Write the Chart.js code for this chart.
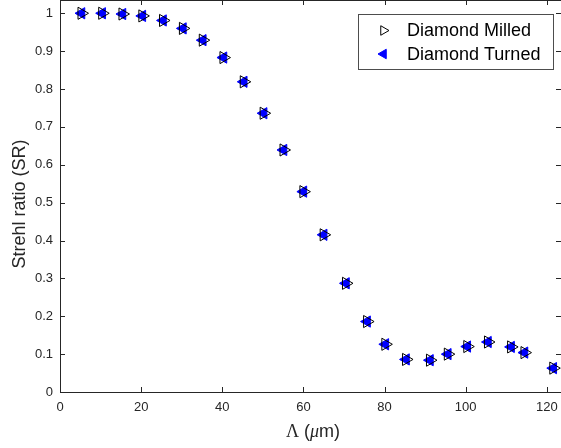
<!DOCTYPE html>
<html>
<head>
<meta charset="utf-8">
<script src="https://cdn.jsdelivr.net/npm/chart.js@4/dist/chart.umd.min.js"></script>
<style>
  html, body { margin: 0; padding: 0; background: #fff; }
  #wrap { width: 561px; height: 448px; position: relative; }
</style>
</head>
<body>
<div id="wrap"><canvas id="srChart"></canvas></div>
<script>
// ==========================
// Data
// ==========================
const lambdaUm = [5.3, 10.4, 15.4, 20.3, 25.4, 30.3, 35.2, 40.3, 45.3, 50.2, 55.1, 60.0,
                  65.0, 70.5, 75.7, 80.2, 85.3, 91.2, 95.6, 100.4, 105.5, 111.2, 114.5, 121.6];
const milledSR = [1.0, 1.0, 0.998, 0.993, 0.981, 0.960, 0.929, 0.883, 0.819, 0.736, 0.639, 0.529,
                  0.415, 0.287, 0.186, 0.126, 0.086, 0.084, 0.100, 0.120, 0.132, 0.119, 0.104, 0.063];
const turnedSR = [1.0, 1.0, 0.998, 0.993, 0.981, 0.960, 0.929, 0.883, 0.819, 0.736, 0.639, 0.529,
                  0.415, 0.287, 0.186, 0.126, 0.086, 0.084, 0.100, 0.120, 0.132, 0.119, 0.104, 0.063];
const seriesNames = ["Diamond Milled", "Diamond Turned"];
const xTicks = [0, 20, 40, 60, 80, 100, 120];
const yTicks = [0, 0.1, 0.2, 0.3, 0.4, 0.5, 0.6, 0.7, 0.8, 0.9, 1];

const AXIS_COLOR = "#262626";
const SANS = "'Liberation Sans', Arial, sans-serif";
const SERIF = "'Liberation Serif', 'Times New Roman', serif";

function toPoints(xs, ys) {
    return xs.map((x, i) => ({ x: x, y: ys[i] }));
}

// ==========================
// Axes box + inward ticks (MATLAB style)
// ==========================
const boxAxes = {
    id: "boxAxes",
    afterDraw(chart) {
        const { ctx, chartArea: a, scales } = chart;
        ctx.save();
        ctx.strokeStyle = AXIS_COLOR;
        ctx.lineWidth = 1;
        ctx.beginPath();
        ctx.moveTo(a.left + 0.5, a.top + 0.5);
        ctx.lineTo(a.left + 0.5, a.bottom + 0.5);
        ctx.lineTo(a.right + 0.5, a.bottom + 0.5);
        ctx.moveTo(a.left + 0.5, a.top + 0.5);
        ctx.lineTo(a.right + 0.5, a.top + 0.5);
        ctx.lineTo(a.right + 0.5, a.bottom + 0.5);
        const len = 5;
        xTicks.forEach(v => {
            const px = Math.round(scales.x.getPixelForValue(v)) + 0.5;
            ctx.moveTo(px, a.bottom);
            ctx.lineTo(px, a.bottom - len);
            ctx.moveTo(px, a.top);
            ctx.lineTo(px, a.top + len);
        });
        yTicks.forEach(v => {
            const py = Math.round(scales.y.getPixelForValue(v)) + 0.5;
            ctx.moveTo(a.left, py);
            ctx.lineTo(a.left + len, py);
            ctx.moveTo(a.right, py);
            ctx.lineTo(a.right - len, py);
        });
        ctx.stroke();

        // y title
        ctx.fillStyle = AXIS_COLOR;
        ctx.font = "18px " + SANS;
        ctx.textAlign = "center";
        ctx.textBaseline = "middle";
        ctx.translate(20, 204);
        ctx.rotate(-Math.PI / 2);
        ctx.fillText("Strehl ratio (SR)", 0, 0);
        ctx.restore();

        // x title: Λ (μm) with symbol glyphs in serif
        ctx.save();
        ctx.fillStyle = AXIS_COLOR;
        ctx.textBaseline = "middle";
        ctx.textAlign = "left";
        const parts = [
            { t: "\u039B", f: "18px " + SERIF },
            { t: " (", f: "18px " + SANS },
            { t: "\u03BC", f: "italic 18px " + SERIF },
            { t: "m)", f: "18px " + SANS }
        ];
        let total = 0;
        parts.forEach(p => { ctx.font = p.f; p.w = ctx.measureText(p.t).width; total += p.w; });
        let cx = 313 - total / 2;
        parts.forEach(p => { ctx.font = p.f; ctx.fillText(p.t, cx, 432); cx += p.w; });
        ctx.restore();
    }
};

// ==========================
// Legend box (top right, inside axes)
// ==========================
const insideLegend = {
    id: "insideLegend",
    afterDraw(chart) {
        const ctx = chart.ctx;
        ctx.save();
        ctx.fillStyle = "#fff";
        ctx.strokeStyle = "#4d4d4d";
        ctx.lineWidth = 1;
        ctx.fillRect(358.5, 14.5, 195, 55);
        ctx.strokeRect(358.5, 14.5, 195, 55);
        const rows = [30.5, 54];
        chart.data.datasets.forEach((ds, i) => {
            ctx.fillStyle = ds.backgroundColor;
            ctx.strokeStyle = ds.borderColor;
            ctx.lineWidth = 1;
            Chart.helpers.drawPoint(ctx, {
                pointStyle: "triangle",
                rotation: ds.rotation,
                radius: 5.5,
                borderWidth: 1
            }, 383.5, rows[i]);
            ctx.fillStyle = "#000";
            ctx.font = "18px " + SANS;
            ctx.textAlign = "left";
            ctx.textBaseline = "middle";
            ctx.fillText(ds.label, 407, rows[i] + 1);
        });
        ctx.restore();
    }
};

new Chart(document.getElementById("srChart"), {
    type: "scatter",
    data: {
        datasets: [
            {
                label: seriesNames[0],
                data: toPoints(lambdaUm, milledSR),
                pointStyle: "triangle",
                rotation: 90,
                pointRadius: 7,
                borderColor: "#000",
                backgroundColor: "rgba(0,0,0,0)",
                borderWidth: 1
            },
            {
                label: seriesNames[1],
                data: toPoints(lambdaUm, turnedSR),
                pointStyle: "triangle",
                rotation: -90,
                pointRadius: 6.5,
                borderColor: "#0000ff",
                backgroundColor: "#0000ff",
                borderWidth: 1
            }
        ]
    },
    options: {
        responsive: true,
        maintainAspectRatio: false,
        animation: false,
        layout: { autoPadding: false, padding: { top: 0, right: 0, bottom: 0, left: 0 } },
        plugins: {
            legend: { display: false },
            tooltip: { enabled: false }
        },
        scales: {
            x: {
                type: "linear",
                min: 0,
                max: 123.5,
                afterBuildTicks: s => { s.ticks = xTicks.map(v => ({ value: v })); },
                afterFit: s => { s.height = 56; s.paddingLeft = 0; s.paddingRight = 0; },
                grid: { display: false, drawTicks: false },
                border: { display: false },
                ticks: {
                    padding: 8,
                    color: AXIS_COLOR,
                    font: { family: SANS, size: 13 },
                    maxRotation: 0
                }
            },
            y: {
                type: "linear",
                min: 0,
                max: 1.035,
                afterBuildTicks: s => { s.ticks = yTicks.map(v => ({ value: v })); },
                afterFit: s => { s.width = 60; s.paddingTop = 0; s.paddingBottom = 0; },
                grid: { display: false, drawTicks: false },
                border: { display: false },
                ticks: {
                    padding: 7,
                    color: AXIS_COLOR,
                    font: { family: SANS, size: 13 },
                    callback: v => String(v)
                }
            }
        }
    },
    plugins: [boxAxes, insideLegend]
});
</script>
</body>
</html>
